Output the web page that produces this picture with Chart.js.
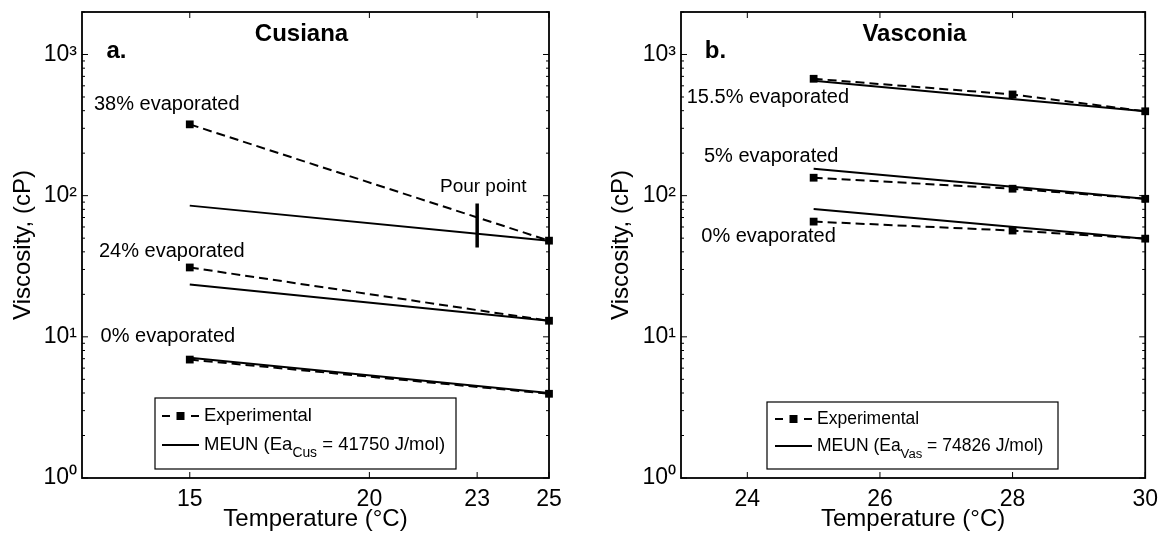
<!DOCTYPE html>
<html>
<head>
<meta charset="utf-8">
<script src="https://cdn.jsdelivr.net/npm/chart.js@4/dist/chart.umd.min.js"></script>
<style>
  html, body { margin: 0; padding: 0; background: #fff; }
  #wrap { position: relative; width: 1166px; height: 535px; }
  .panel { position: absolute; top: 0; width: 583px; height: 535px; }
</style>
</head>
<body>
<div id="wrap">
  <div class="panel" style="left:0"><canvas id="cusiana" width="583" height="535"></canvas></div>
  <div class="panel" style="left:583px"><canvas id="vasconia" width="583" height="535"></canvas></div>
</div>
<script>
// --- data ---
// Cusiana (panel a)
const cusTemps = [15, 25];
const cus38Exp = [320, 48];
const cus38Meun = [85, 48];
const cus24Exp = [31, 13];
const cus24Meun = [23.5, 13];
const cus0Exp = [6.9, 3.95];
const cus0Meun = [7.1, 4.0];
const pourTemp = 23;
const pourRange = [88, 43];

// Vasconia (panel b)
const vasTemps = [25, 28, 30];
const vasMeunTemps = [25, 30];
const vas155Exp = [673, 521, 396];
const vas155Meun = [652, 396];
const vas5Exp = [134, 112, 95];
const vas5Meun = [155, 95];
const vas0Exp = [65.5, 56.6, 49.6];
const vas0Meun = [80.5, 49.6];

// ticks
const cusXTicks = [15, 20, 23, 25];
const vasXTicks = [24, 26, 28, 30];
const yTicks = [1, 10, 100, 1000];
const yTickLabels = ['10\u2070', '10\u00b9', '10\u00b2', '10\u00b3'];

const FONT = '"Liberation Sans", Arial, Helvetica, sans-serif';

const pts = (xs, ys) => ys.map((v, i) => ({x: xs[i], y: v}));

function expSet(xs, ys) {
  return {
    data: pts(xs, ys),
    borderColor: '#000',
    borderWidth: 2,
    borderDash: [9, 5],
    pointStyle: 'rect',
    pointRadius: 5.5,
    pointBackgroundColor: '#000',
    pointBorderWidth: 0,
    clip: false
  };
}
function meunSet(xs, ys) {
  return {data: pts(xs, ys), borderColor: '#000', borderWidth: 2, pointRadius: 0, clip: false};
}

// box, inward ticks, text labels and legend, MATLAB style
const matlabAxes = {
  id: 'matlabAxes',
  afterDraw(chart, args, opts) {
    const {ctx, chartArea: a, scales: {x, y}} = chart;
    const line = (x1, y1, x2, y2) => { ctx.beginPath(); ctx.moveTo(x1, y1); ctx.lineTo(x2, y2); ctx.stroke(); };
    ctx.save();
    ctx.strokeStyle = '#000';
    ctx.fillStyle = '#000';
    ctx.lineWidth = 1;
    x.ticks.forEach(t => {
      const px = x.getPixelForValue(t.value);
      line(px, a.bottom, px, a.bottom - 6);
      line(px, a.top, px, a.top + 6);
    });
    for (let d = 1; d <= y.max; d *= 10) {
      for (let m = 1; m < 10; m++) {
        const v = m * d;
        if (v > y.max) break;
        const py = y.getPixelForValue(v);
        const len = m === 1 ? 6 : 3;
        line(a.left, py, a.left + len, py);
        line(a.right, py, a.right - len, py);
      }
    }
    ctx.lineWidth = 1.8;
    ctx.strokeRect(a.left, a.top, a.right - a.left, a.bottom - a.top);

    // annotations
    ctx.textAlign = 'center';
    ctx.textBaseline = 'middle';
    opts.texts.forEach(t => {
      ctx.font = (t.bold ? 'bold ' : '') + t.size + 'px ' + FONT;
      ctx.fillText(t.text, x.getPixelForValue(t.x), y.getPixelForValue(t.y));
    });

    // legend
    const L = opts.legend;
    const bx = a.left + L.left, by = a.bottom - L.top;
    ctx.fillStyle = '#fff';
    ctx.fillRect(bx, by, L.width, L.height);
    ctx.lineWidth = 1.2;
    ctx.strokeRect(bx, by, L.width, L.height);
    ctx.fillStyle = '#000';
    ctx.lineWidth = 2;
    const r1 = by + L.row1, r2 = by + L.row2;
    const l0 = bx + L.lineStart, l1 = l0 + L.lineLen;
    line(l0, r1, l0 + 8, r1);
    line(l1 - 8, r1, l1, r1);
    ctx.fillRect((l0 + l1) / 2 - 4, r1 - 4, 8, 8);
    line(l0, r2, l1, r2);
    ctx.textAlign = 'left';
    ctx.font = L.size + 'px ' + FONT;
    const tx = bx + L.textStart;
    ctx.fillText('Experimental', tx, r1);
    let cx = tx;
    ctx.fillText('MEUN (Ea', cx, r2);
    cx += ctx.measureText('MEUN (Ea').width;
    ctx.font = (L.size * 0.75) + 'px ' + FONT;
    ctx.fillText(L.sub, cx, r2 + 8);
    cx += ctx.measureText(L.sub).width;
    ctx.font = L.size + 'px ' + FONT;
    ctx.fillText(L.tail, cx, r2);
    ctx.restore();
  }
};

function makeChart(id, datasets, xMin, xMax, xTicks, yAxisWidth, padRight, yTitlePad, plugOpts) {
  return new Chart(document.getElementById(id), {
    type: 'line',
    data: {datasets: datasets},
    options: {
      responsive: false,
      animation: false,
      devicePixelRatio: 1,
      layout: {padding: {top: 12, right: padRight, left: 0, bottom: 0}},
      plugins: {legend: {display: false}, tooltip: {enabled: false}, matlabAxes: plugOpts},
      scales: {
        x: {
          type: 'linear', min: xMin, max: xMax,
          afterBuildTicks: s => { s.ticks = xTicks.map(v => ({value: v})); },
          afterFit: s => { s.height = 57; },
          grid: {display: false, drawTicks: false},
          border: {display: false},
          ticks: {color: '#000', padding: 8, font: {family: FONT, size: 23}, callback: v => String(v)},
          title: {display: true, text: 'Temperature (\u00b0C)', color: '#000',
                  font: {family: FONT, size: 24}, padding: {top: 0, bottom: 1}}
        },
        y: {
          type: 'logarithmic', min: 1, max: 2000,
          afterBuildTicks: s => { s.ticks = yTicks.map(v => ({value: v})); },
          afterFit: s => { s.width = yAxisWidth; s.paddingTop = 0; s.paddingBottom = 0; },
          grid: {display: false, drawTicks: false},
          border: {display: false},
          ticks: {color: '#000', padding: 5, font: {family: FONT, size: 23},
                  callback: v => { const i = yTicks.indexOf(v); return i < 0 ? '' : yTickLabels[i]; }},
          title: {display: true, text: 'Viscosity, (cP)', color: '#000',
                  font: {family: FONT, size: 24}, padding: {top: yTitlePad, bottom: 0}}
        }
      }
    },
    plugins: [matlabAxes]
  });
}

makeChart('cusiana', [
  expSet(cusTemps, cus38Exp), meunSet(cusTemps, cus38Meun),
  expSet(cusTemps, cus24Exp), meunSet(cusTemps, cus24Meun),
  expSet(cusTemps, cus0Exp), meunSet(cusTemps, cus0Meun),
  {data: pourRange.map(v => ({x: pourTemp, y: v})), borderColor: '#000', borderWidth: 3.5, pointRadius: 0}
], 12, 25, cusXTicks, 82, 34, 9, {
  texts: [
    {text: 'a.', x: 12.96, y: 1050, size: 24, bold: true},
    {text: 'Cusiana', x: 18.11, y: 1384, size: 24, bold: true},
    {text: '38% evaporated', x: 14.36, y: 444, size: 20},
    {text: '24% evaporated', x: 14.5, y: 40.5, size: 20},
    {text: '0% evaporated', x: 14.39, y: 10.0, size: 20},
    {text: 'Pour point', x: 23.17, y: 115, size: 19}
  ],
  legend: {left: 73, top: 80, width: 301, height: 71, row1: 18, row2: 47,
           lineStart: 7, lineLen: 37, textStart: 49, size: 18.5,
           sub: 'Cus', tail: ' = 41750 J/mol)'}
});

makeChart('vasconia', [
  expSet(vasTemps, vas155Exp), meunSet(vasMeunTemps, vas155Meun),
  expSet(vasTemps, vas5Exp), meunSet(vasMeunTemps, vas5Meun),
  expSet(vasTemps, vas0Exp), meunSet(vasMeunTemps, vas0Meun)
], 23, 30, vasXTicks, 98, 19, 24, {
  texts: [
    {text: 'b.', x: 23.52, y: 1050, size: 24, bold: true},
    {text: 'Vasconia', x: 26.52, y: 1384, size: 24, bold: true},
    {text: '15.5% evaporated', x: 24.31, y: 497, size: 20},
    {text: '5% evaporated', x: 24.36, y: 190, size: 20},
    {text: '0% evaporated', x: 24.32, y: 51.8, size: 20}
  ],
  legend: {left: 86, top: 76, width: 291, height: 67, row1: 17, row2: 44,
           lineStart: 8, lineLen: 37, textStart: 50, size: 17.5,
           sub: 'Vas', tail: ' = 74826 J/mol)'}
});
</script>
</body>
</html>
